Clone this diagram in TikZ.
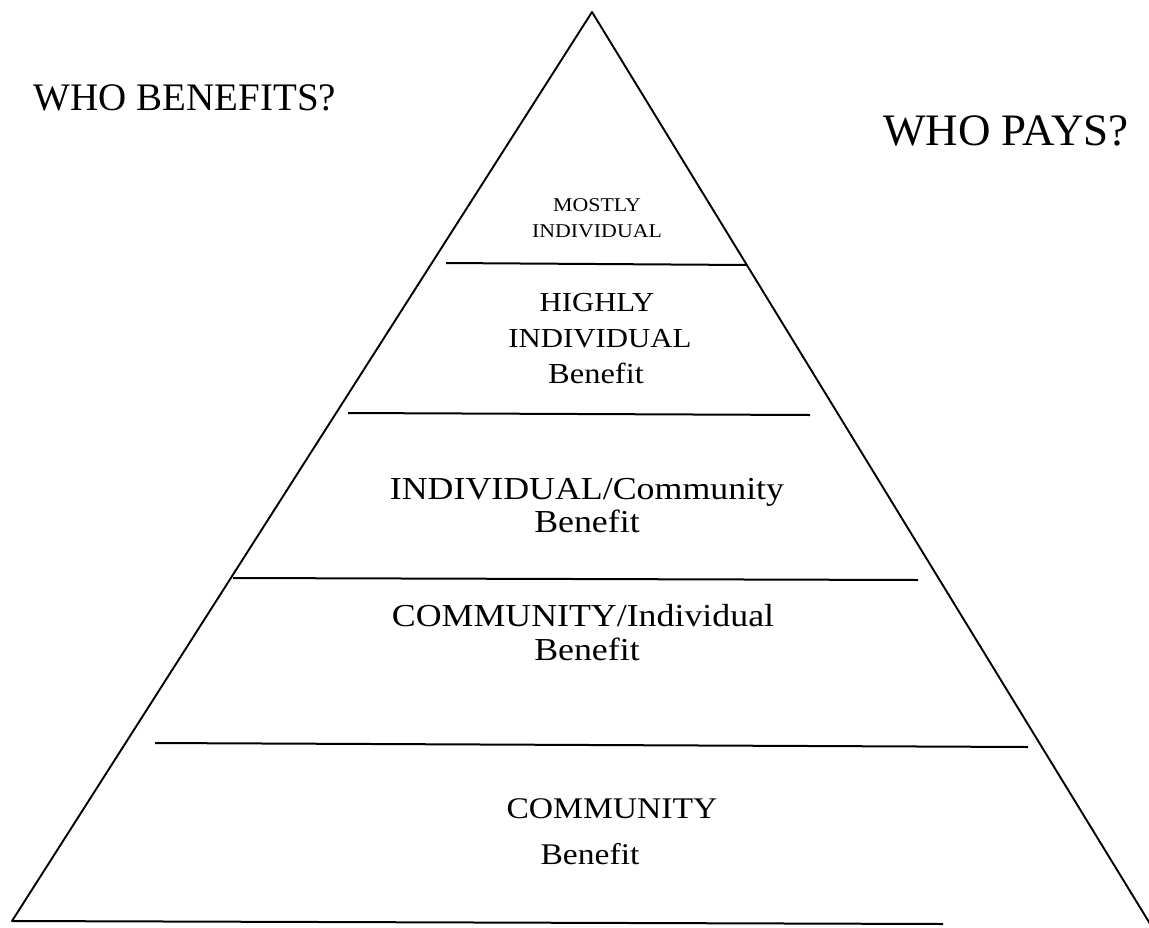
\documentclass[tikz,border=0pt]{standalone}
\usepackage[T1]{fontenc}
\usepackage{fontspec}
\newfontfamily\headfont{Liberation Serif}
% Palatino-style face for the tier labels, with a serif fallback
\IfFileExists{pplr8t.tfm}{%
  \newcommand\palfont{\fontencoding{T1}\fontfamily{ppl}\selectfont}}{%
  \IfFileExists{ec-qplr.tfm}{%
    \newcommand\palfont{\fontencoding{T1}\fontfamily{qpl}\selectfont}}{%
    \newcommand\palfont{\headfont}}}
\newcommand\lblsize[1]{\palfont\fontsize{#1}{#1}\selectfont}
\begin{document}
\begin{tikzpicture}[x=1pt,y=-1pt,
  edge/.style={line width=1.9pt,line cap=round,line join=round},
  tier/.style={line width=2pt},
  head/.style={anchor=base,inner sep=0pt},
  lbl/.style={anchor=base,inner sep=0pt,align=center,xscale=1.12},
]
\useasboundingbox (0,0) rectangle (1149,927);
\begin{scope}
\clip (0,0) rectangle (1149,927);
% outline of the pyramid
\coordinate (apex) at (592,12);
\coordinate (bl) at (12,921);
\coordinate (br) at (1152,927);
\draw[edge] (bl) -- (apex) -- (br);
% tier dividers
\coordinate (t1a) at (446,263); \coordinate (t1b) at (747,265);
\coordinate (t2a) at (348,413); \coordinate (t2b) at (810,415);
\coordinate (t3a) at (233,578); \coordinate (t3b) at (918,580);
\coordinate (t4a) at (155,743); \coordinate (t4b) at (1028,747);
\coordinate (t5a) at (12,921);  \coordinate (t5b) at (943,924);
\draw[tier] (t1a) -- (t1b);
\draw[tier] (t2a) -- (t2b);
\draw[tier] (t3a) -- (t3b);
\draw[tier] (t4a) -- (t4b);
\draw[tier] (t5a) -- (t5b);
\end{scope}
% side questions
\node[head,font=\headfont\fontsize{39}{39}\selectfont] (benefits) at (185,110) {WHO BENEFITS?};
\node[head,font=\headfont\fontsize{45}{45}\selectfont] (pays) at (1006,145) {WHO PAYS?};
% tier labels
\node[lbl,font=\lblsize{19.5}] (m1) at (597,211) {MOSTLY};
\node[lbl,font=\lblsize{19.5}] (m2) at (597,237) {INDIVIDUAL};
\node[lbl,font=\lblsize{27.5}] (h1) at (597,311) {HIGHLY};
\node[lbl,font=\lblsize{27.5}] (h2) at (600,347) {INDIVIDUAL};
\node[lbl,font=\lblsize{29}] (h3) at (596,383) {Benefit};
\node[lbl,font=\lblsize{32}] (i1) at (587,499) {INDIVIDUAL/Community};
\node[lbl,font=\lblsize{32}] (i2) at (587,532) {Benefit};
\node[lbl,font=\lblsize{32}] (c1) at (583,626) {COMMUNITY/Individual};
\node[lbl,font=\lblsize{32}] (c2) at (587,660) {Benefit};
\node[lbl,font=\lblsize{30}] (b1) at (612,818) {COMMUNITY};
\node[lbl,font=\lblsize{30}] (b2) at (590,864) {Benefit};
\end{tikzpicture}
\end{document}
